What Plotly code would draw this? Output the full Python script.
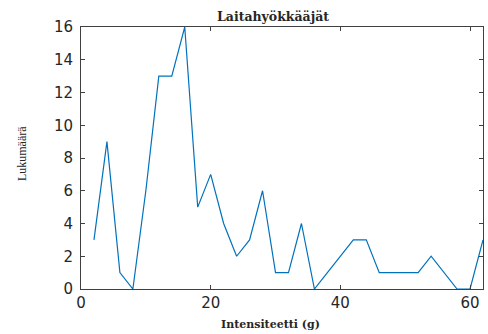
import plotly.graph_objects as go

intensity = [2, 4, 6, 8, 10, 12, 14, 16, 18, 20, 22, 24, 26, 28, 30, 32,
             34, 36, 38, 40, 42, 44, 46, 48, 50, 52, 54, 56, 58, 60, 62]
counts = [3, 9, 1, 0, 6, 13, 13, 16, 5, 7, 4, 2, 3, 6, 1, 1,
          4, 0, 1, 2, 3, 3, 1, 1, 1, 1, 2, 1, 0, 0, 3]
x_ticks = [0, 20, 40, 60]
y_ticks = [0, 2, 4, 6, 8, 10, 12, 14, 16]

title_text = "Laitahyökkääjät"
x_title = "Intensiteetti (g)"
y_title = "Lukumäärä"

fig = go.Figure()
fig.add_trace(go.Scatter(x=intensity, y=counts, mode="lines",
                         line=dict(color="#0072BD", width=1.2),
                         showlegend=False, hoverinfo="skip"))

axis_common = dict(
    showgrid=False, zeroline=False, showline=True, linecolor="#404040",
    linewidth=1, mirror="ticks", ticks="inside", ticklen=4,
    tickcolor="#404040", tickwidth=1,
    tickfont=dict(family="DejaVu Sans", size=15, color="#262626"),
)

fig.update_layout(
    width=488, height=334,
    margin=dict(l=81, r=5, t=27, b=45),
    paper_bgcolor="white", plot_bgcolor="white",
    xaxis=dict(range=[0, 62], tickvals=x_ticks, **axis_common),
    yaxis=dict(range=[0, 16], tickvals=y_ticks, ticklabelstandoff=4, **axis_common),
)

fig.add_annotation(text="<b>" + title_text + "</b>", xref="paper", yref="paper",
                   x=0.478, y=1, xanchor="center", yanchor="middle", yshift=10.5,
                   showarrow=False,
                   font=dict(family="DejaVu Serif", size=12.5, color="#262626"))
fig.add_annotation(text="<b>" + x_title + "</b>", xref="paper", yref="paper",
                   x=0.4726, y=0, xanchor="center", yanchor="middle", yshift=-35,
                   showarrow=False,
                   font=dict(family="DejaVu Serif", size=11, color="#262626"))
fig.add_annotation(text=y_title, xref="paper", yref="paper", textangle=-90,
                   x=0, y=0.515, xanchor="center", yanchor="middle", xshift=-59,
                   showarrow=False,
                   font=dict(family="Liberation Serif", size=12, color="#262626"))

fig.write_html("out.html")
